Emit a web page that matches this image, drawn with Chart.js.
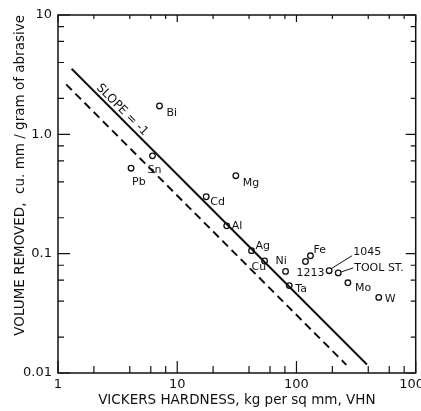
<!DOCTYPE html>
<html>
<head>
<meta charset="utf-8">
<script src="https://cdn.jsdelivr.net/npm/chart.js@4.4.0/dist/chart.umd.min.js"></script>
<style>
html, body { margin: 0; padding: 0; background: #fff; }
#wrap { width: 421px; height: 411px; }
</style>
</head>
<body>
<div id="wrap"><canvas id="chart" width="421" height="411"></canvas></div>
<script>
// measured points: metal name, Vickers hardness, volume removed
var metals = ['Bi', 'Sn', 'Pb', 'Mg', 'Cd', 'Al', 'Ag', 'Cu', 'Ni', 'Ta', '1213', 'Fe', '1045', 'TOOL ST.', 'Mo', 'W'];
var hardness = [7.1, 6.2, 4.1, 31, 17.5, 26, 42, 54, 81, 87, 119, 131, 188, 224, 270, 490];
var volume = [1.73, 0.66, 0.52, 0.45, 0.30, 0.171, 0.106, 0.087, 0.071, 0.054, 0.086, 0.096, 0.072, 0.069, 0.057, 0.043];

// slope = -1 lines
var solidX = [1.3, 390];
var solidY = [3.55, 0.0118];
var dashX = [1.17, 262];
var dashY = [2.62, 0.0117];

// ticks
var xTicks = [1, 2, 4, 6, 8, 10, 20, 40, 60, 80, 100, 200, 400, 600, 800, 1000];
var xMajor = [1, 10, 100, 1000];
var xMajorLabels = ['1', '10', '100', '1000'];
var yTicks = [0.01, 0.02, 0.04, 0.06, 0.08, 0.1, 0.2, 0.4, 0.6, 0.8, 1, 2, 4, 6, 8, 10];
var yMajor = [0.01, 0.1, 1, 10];
var yMajorLabels = ['0.01', '0.1', '1.0', '10'];

// where each name sits relative to its circle (dx to text start, dy to text middle), plus leader lines
var labelPos = [
    [7, 7], [-5, 14], [1, 14], [7, 7], [4, 5], [5, 0], [4, -5], [-13, 6],
    [-10, -10], [6, 4], [-9, 12], [3, -6], [24, -19, 2, -2, 23, -15], [16, -5, 3, -1, 15, -5], [7, 5], [6, 2]
];

var FONT = '"DejaVu Sans", sans-serif';
var INK = '#111';

function majorIndex(v, majors) {
    for (var i = 0; i < majors.length; i++) {
        if (Math.abs(v - majors[i]) / majors[i] < 1e-6) return i;
    }
    return -1;
}

var pts = hardness.map(function(h, i) { return {x: h, y: volume[i]}; });

var decorPlugin = {
    id: 'decor',
    afterDatasetsDraw: function(chart) {
        var ctx = chart.ctx;
        var a = chart.chartArea;
        var xs = chart.scales.x, ys = chart.scales.y;
        ctx.save();
        ctx.strokeStyle = INK;
        ctx.lineWidth = 1.5;
        ctx.strokeRect(a.left, a.top, a.right - a.left, a.bottom - a.top);

        // inward ticks
        ctx.lineWidth = 1.2;
        ctx.beginPath();
        xTicks.forEach(function(v) {
            var px = xs.getPixelForValue(v);
            var big = majorIndex(v, xMajor) >= 0;
            ctx.moveTo(px, a.bottom); ctx.lineTo(px, a.bottom - (big ? 12 : 7));
            ctx.moveTo(px, a.top); ctx.lineTo(px, a.top + (big ? 7 : 4));
        });
        yTicks.forEach(function(v) {
            var py = ys.getPixelForValue(v);
            var big = majorIndex(v, yMajor) >= 0;
            ctx.moveTo(a.left, py); ctx.lineTo(a.left + (big ? 12 : 6), py);
            ctx.moveTo(a.right, py); ctx.lineTo(a.right - (big ? 10 : 5), py);
        });
        ctx.stroke();

        // point names
        var meta = chart.getDatasetMeta(2);
        ctx.fillStyle = INK;
        ctx.font = '11px ' + FONT;
        ctx.textAlign = 'left';
        ctx.textBaseline = 'middle';
        meta.data.forEach(function(el, i) {
            var p = labelPos[i];
            ctx.fillText(metals[i], el.x + p[0], el.y + p[1]);
            if (p.length > 2) {
                ctx.lineWidth = 1;
                ctx.beginPath();
                ctx.moveTo(el.x + p[2], el.y + p[3]);
                ctx.lineTo(el.x + p[4], el.y + p[5]);
                ctx.stroke();
            }
        });

        // slope note along the solid line
        var x0 = xs.getPixelForValue(solidX[0]), y0 = ys.getPixelForValue(solidY[0]);
        var x1 = xs.getPixelForValue(solidX[1]), y1 = ys.getPixelForValue(solidY[1]);
        var ang = Math.atan2(y1 - y0, x1 - x0);
        ctx.translate(xs.getPixelForValue(3.45), ys.getPixelForValue(1.6));
        ctx.rotate(ang);
        ctx.font = '12px ' + FONT;
        ctx.textAlign = 'center';
        ctx.fillText('SLOPE = -1', 0, 0);
        ctx.restore();
    }
};

new Chart(document.getElementById('chart'), {
    type: 'scatter',
    data: {
        datasets: [{
            type: 'line',
            data: solidX.map(function(x, i) { return {x: x, y: solidY[i]}; }),
            borderColor: INK,
            borderWidth: 2,
            pointRadius: 0,
            fill: false
        }, {
            type: 'line',
            data: dashX.map(function(x, i) { return {x: x, y: dashY[i]}; }),
            borderColor: INK,
            borderWidth: 2,
            borderDash: [8, 5],
            pointRadius: 0,
            fill: false
        }, {
            data: pts,
            pointStyle: 'circle',
            pointRadius: 2.8,
            pointBorderWidth: 1.3,
            pointBorderColor: INK,
            pointBackgroundColor: '#fff'
        }]
    },
    options: {
        responsive: false,
        animation: false,
        devicePixelRatio: 1,
        layout: { padding: { left: 8, right: 3, top: 15, bottom: 0 } },
        plugins: { legend: { display: false }, tooltip: { enabled: false } },
        scales: {
            x: {
                type: 'logarithmic',
                min: 1,
                max: 1000,
                grid: { display: false, drawTicks: false },
                border: { display: false },
                afterBuildTicks: function(s) { s.ticks = xTicks.map(function(v) { return {value: v}; }); },
                afterFit: function(s) { s.height = 38; s.paddingLeft = 0; s.paddingRight = 0; },
                ticks: {
                    autoSkip: false,
                    maxRotation: 0,
                    padding: 4,
                    color: INK,
                    font: { family: FONT, size: 13 },
                    callback: function(v) {
                        var k = majorIndex(v, xMajor);
                        return k >= 0 ? xMajorLabels[k] : '';
                    }
                },
                title: {
                    display: true,
                    text: 'VICKERS HARDNESS, kg per sq mm, VHN',
                    color: INK,
                    font: { family: FONT, size: 13.5 },
                    padding: { top: 0, bottom: 2 }
                }
            },
            y: {
                type: 'logarithmic',
                min: 0.01,
                max: 10,
                grid: { display: false, drawTicks: false },
                border: { display: false },
                afterBuildTicks: function(s) { s.ticks = yTicks.map(function(v) { return {value: v}; }); },
                afterFit: function(s) { s.width = 50; s.paddingTop = 0; s.paddingBottom = 0; },
                ticks: {
                    autoSkip: false,
                    padding: 6,
                    color: INK,
                    font: { family: FONT, size: 13 },
                    callback: function(v) {
                        var k = majorIndex(v, yMajor);
                        return k >= 0 ? yMajorLabels[k] : '';
                    }
                },
                title: {
                    display: true,
                    align: 'end',
                    text: 'VOLUME REMOVED,  cu. mm / gram of abrasive',
                    color: INK,
                    font: { family: FONT, size: 13.5 },
                    padding: { top: 4, bottom: 0 }
                }
            }
        }
    },
    plugins: [decorPlugin]
});
</script>
</body>
</html>
